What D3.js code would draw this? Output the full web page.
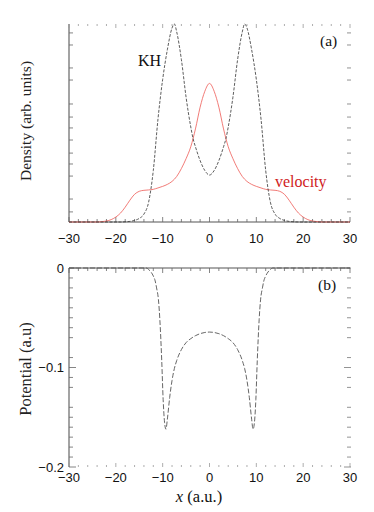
<!DOCTYPE html>
<html><head><meta charset="utf-8">
<script src="https://cdn.jsdelivr.net/npm/d3@7"></script>
<style>body{margin:0;background:#fff}svg{display:block}</style>
</head><body><svg id="c" width="374" height="512"></svg>
<script>
// ---- data ----
const khX   = [-30,-19,-18,-17,-16,-15,-14,-13,-12,-11,-10,-9,-8,-7.5,-7,-6,-5,-4,-3.5,-3,-2,-1,0,1,2,3,3.5,4,5,6,7,7.5,8,9,10,11,12,13,14,15,16,17,18,19,30];
const khY   = [0,0,0.001,0.003,0.008,0.018,0.04,0.10,0.26,0.52,0.72,0.87,0.98,1.0,0.96,0.82,0.63,0.48,0.42,0.38,0.31,0.26,0.237,0.26,0.31,0.38,0.42,0.48,0.63,0.82,0.96,1.0,0.98,0.87,0.72,0.52,0.26,0.10,0.04,0.018,0.008,0.003,0.001,0,0];
const velX  = [-30,-24,-23,-22,-21,-20,-19,-18,-17,-16,-15,-14,-13,-12,-11,-10,-9,-8,-7,-6,-5,-4,-3,-2,-1,0,1,2,3,4,5,6,7,8,9,10,11,12,13,14,15,16,17,18,19,20,21,22,23,24,30];
const velY  = [0,0,0.002,0.005,0.012,0.025,0.045,0.075,0.11,0.14,0.155,0.16,0.162,0.165,0.172,0.18,0.19,0.205,0.23,0.27,0.32,0.38,0.47,0.58,0.66,0.70,0.66,0.58,0.47,0.38,0.32,0.27,0.23,0.205,0.19,0.18,0.172,0.165,0.162,0.16,0.155,0.14,0.11,0.075,0.045,0.025,0.012,0.005,0.002,0,0];
const potX  = [-30,-14,-13.5,-13,-12.5,-12,-11.6,-11.3,-10.9,-10.6,-10.2,-9.9,-9.6,-9.3,-9,-8.5,-8,-7.5,-7,-6,-5,-4,-3,-2,-1,0,1,2,3,4,5,6,7,7.5,8,8.5,9,9.3,9.6,9.9,10.2,10.6,10.9,11.3,11.6,12,12.5,13,13.5,14,30];
const potY  = [0,0,0,-0.0015,-0.004,-0.008,-0.013,-0.020,-0.032,-0.052,-0.093,-0.132,-0.155,-0.162,-0.152,-0.130,-0.113,-0.101,-0.093,-0.082,-0.075,-0.071,-0.068,-0.066,-0.0648,-0.0644,-0.0648,-0.066,-0.068,-0.071,-0.075,-0.082,-0.093,-0.101,-0.113,-0.130,-0.152,-0.162,-0.155,-0.132,-0.093,-0.052,-0.032,-0.020,-0.013,-0.008,-0.004,-0.0015,0,0,0];
const xTickLabels = [-30,-20,-10,0,10,20,30];
const xMinorTicks = d3.range(-30, 30.01, 2);
const densTicks = [0.051,0.116,0.232,0.293,0.348,0.414,0.475,0.530,0.596,0.717,0.778,0.894,0.955];
const potTickLabels = [0,-0.1,-0.2];
const potMinorTicks = [-0.01,-0.02,-0.03,-0.04,-0.05,-0.06,-0.07,-0.09,-0.11,-0.12,-0.14,-0.15,-0.16,-0.17,-0.18,-0.19];

// ---- layout ----
const svg = d3.select("#c");
const L = 69, R = 350;
const x = d3.scaleLinear().domain([-30,30]).range([L,R]);
const ya = d3.scaleLinear().domain([0,1]).range([222,24]);
const yb = d3.scaleLinear().domain([-0.2,0]).range([467,268]);
const axisCol = "#666";
const fmt = d => d < 0 ? "\u2212" + Math.abs(d) : String(d);
const fmtP = d => d === 0 ? "0" : "\u2212" + String(Math.abs(d));

function ticksX(g, yPos, dir, len, col) {
  g.selectAll(null).data(xMinorTicks).join("line")
    .attr("x1", d => x(d)).attr("x2", d => x(d))
    .attr("y1", yPos).attr("y2", d => yPos + dir * (d % 10 === 0 ? len + 2 : len))
    .attr("stroke", col).attr("stroke-width", 0.8);
}
function ticksY(g, scale, vals, xPos, dir, len, col) {
  g.selectAll(null).data(vals).join("line")
    .attr("x1", xPos).attr("x2", xPos + dir * len)
    .attr("y1", d => scale(d)).attr("y2", d => scale(d))
    .attr("stroke", col).attr("stroke-width", 0.8);
}

// ---- panel a ----
const ga = svg.append("g");
ga.append("line").attr("x1", L).attr("x2", L).attr("y1", 24).attr("y2", 222).attr("stroke", axisCol).attr("stroke-width", 1.2);
ga.append("line").attr("x1", L).attr("x2", R).attr("y1", 222).attr("y2", 222).attr("stroke", "#555").attr("stroke-width", 1.2);
ticksX(ga, 222, -1, 3, "#666");
ticksX(ga, 24, 1, 2, "#999");
ticksY(ga, ya, densTicks, L, 1, 4, "#666");
ticksY(ga, ya, densTicks, R - 3, 1, 4, "#777");

const line = d3.line().curve(d3.curveMonotoneX);
ga.append("path").attr("d", line(velX.map((v,i)=>[x(v), ya(velY[i])])))
  .attr("fill","none").attr("stroke","#ee5a56").attr("stroke-width",0.8);
ga.append("path").attr("d", line(khX.map((v,i)=>[x(v), ya(khY[i])])))
  .attr("fill","none").attr("stroke","#333").attr("stroke-width",0.8).attr("stroke-dasharray","3,1.5");

ga.selectAll(null).data(xTickLabels).join("text")
  .attr("x", d => x(d)).attr("y", 243).attr("text-anchor","middle")
  .attr("font-family","Liberation Sans, Arial, sans-serif").attr("font-size",13).attr("fill","#111")
  .text(fmt);

const serif = "Liberation Serif, Times New Roman, serif";
ga.append("text").attr("transform","translate(31,121) rotate(-90)").attr("text-anchor","middle")
  .attr("font-family",serif).attr("font-size",15.5).attr("fill","#222").text("Density  (arb. units)");
ga.append("text").attr("x",138).attr("y",66).attr("font-family",serif).attr("font-size",16).attr("fill","#111").text("KH");
ga.append("text").attr("x",275).attr("y",187).attr("font-family",serif).attr("font-size",16).attr("fill","#d0201c").text("velocity");
ga.append("text").attr("x",320).attr("y",46).attr("font-family",serif).attr("font-size",15.5).attr("fill","#111").text("(a)");

// ---- panel b ----
const gb = svg.append("g");
gb.append("line").attr("x1", L).attr("x2", L).attr("y1", 268).attr("y2", 467).attr("stroke", axisCol).attr("stroke-width", 1.2);
gb.append("line").attr("x1", L).attr("x2", R).attr("y1", 268).attr("y2", 268).attr("stroke", "#555").attr("stroke-width", 1.2);
ticksX(gb, 268, 1, 3, "#666");
ticksX(gb, 467, -1, 2, "#999");
ticksY(gb, yb, potMinorTicks, L, 1, 4, "#666");
ticksY(gb, yb, potTickLabels, L, 1, 7, "#666");
ticksY(gb, yb, potMinorTicks, R - 3, 1, 4, "#777");
ticksY(gb, yb, potTickLabels, R - 6, 1, 7, "#777");

gb.append("path").attr("d", line(potX.map((v,i)=>[x(v), yb(potY[i])])))
  .attr("fill","none").attr("stroke","#555").attr("stroke-width",0.9).attr("stroke-dasharray","5,2");

gb.selectAll(null).data(xTickLabels).join("text")
  .attr("x", d => x(d)).attr("y", 482).attr("text-anchor","middle")
  .attr("font-family","Liberation Sans, Arial, sans-serif").attr("font-size",13).attr("fill","#111")
  .text(fmt);
gb.selectAll(null).data(potTickLabels).join("text")
  .attr("x", 64).attr("y", d => yb(d) + 4.5).attr("text-anchor","end")
  .attr("font-family","Liberation Sans, Arial, sans-serif").attr("font-size",13).attr("fill","#111")
  .text(fmtP);

gb.append("text").attr("transform","translate(31,369) rotate(-90)").attr("text-anchor","middle")
  .attr("font-family",serif).attr("font-size",16.5).attr("fill","#222").text("Potential (a.u)");
gb.append("text").attr("x",318).attr("y",290).attr("font-family",serif).attr("font-size",15.5).attr("fill","#111").text("(b)");
const xl = gb.append("text").attr("x",199).attr("y",502).attr("text-anchor","middle")
  .attr("font-family",serif).attr("font-size",16.5).attr("fill","#111");
xl.append("tspan").attr("font-style","italic").text("x");
xl.append("tspan").text(" (a.u.)");
</script></body></html>
